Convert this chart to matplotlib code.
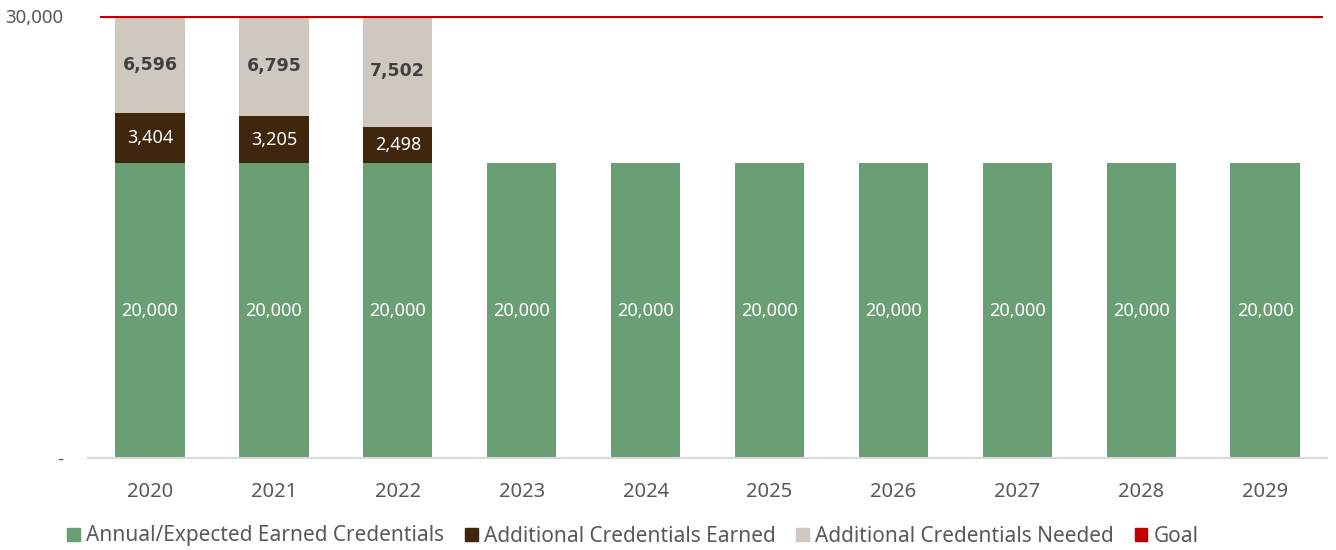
import matplotlib.pyplot as plt
from matplotlib.patches import Patch

# Datos del gráfico
years = ['2020', '2021', '2022', '2023', '2024', '2025', '2026', '2027', '2028', '2029']
expected = [20000] * 10
earned = [3404, 3205, 2498, 0, 0, 0, 0, 0, 0, 0]
needed = [6596, 6795, 7502, 0, 0, 0, 0, 0, 0, 0]
goal = 30000

c_green = '#6A9E74'
c_brown = '#3F260D'
c_gray = '#CFC8BE'
c_red = '#C00000'
c_text = '#595959'

plt.rcParams['font.family'] = ['Noto Sans', 'DejaVu Sans']

fig = plt.figure(figsize=(13.36, 5.5), dpi=100)
ax = fig.add_axes([0.0659, 0.1673, 0.9274, 0.8036])

x = range(len(years))
w = 0.56
ax.bar(x, expected, w, color=c_green)
ax.bar(x, earned, w, bottom=expected, color=c_brown)
bottom2 = [a + b for a, b in zip(expected, earned)]
ax.bar(x, needed, w, bottom=bottom2, color=c_gray)

# Etiquetas de los segmentos
for i in x:
    ax.text(i, expected[i] / 2, f'{expected[i]:,}', ha='center', va='center',
            color='white', fontsize=13)
    if earned[i]:
        ax.text(i, expected[i] + earned[i] / 2, f'{earned[i]:,}', ha='center',
                va='center', color='white', fontsize=13)
    if needed[i]:
        ax.text(i, bottom2[i] + needed[i] / 2, f'{needed[i]:,}', ha='center',
                va='center', color='#404040', fontsize=12.5, fontweight='bold',
                family='DejaVu Sans')

# Línea de meta
ax.hlines(goal, -0.4, 9.47, color=c_red, linewidth=3, zorder=5)

ax.set_xlim(-0.5, 9.5)
ax.set_ylim(0, goal)
ax.set_yticks([0, goal])
ax.set_yticklabels(['-', f'{goal:,}'])
ax.set_xticks(list(x))
ax.set_xticklabels(years)
ax.tick_params(axis='x', length=0, pad=17, labelsize=14.5, colors=c_text)
ax.tick_params(axis='y', length=0, pad=18, labelsize=13.5, colors=c_text)
for s in ['top', 'right', 'left']:
    ax.spines[s].set_visible(False)
ax.spines['bottom'].set_color('#D9D9D9')
ax.spines['bottom'].set_linewidth(1.5)

handles = [Patch(color=c_green), Patch(color=c_brown), Patch(color=c_gray), Patch(color=c_red)]
labels = ['Annual/Expected Earned Credentials', 'Additional Credentials Earned',
          'Additional Credentials Needed', 'Goal']
fig.legend(handles, labels, loc='center', bbox_to_anchor=(633 / 1336, 1 - 536 / 550),
           ncol=4, frameon=False, fontsize=15, labelcolor=c_text,
           handlelength=0.6, handleheight=0.6, handletextpad=0.3, columnspacing=1.0)

fig.savefig('out.png', dpi=100)
